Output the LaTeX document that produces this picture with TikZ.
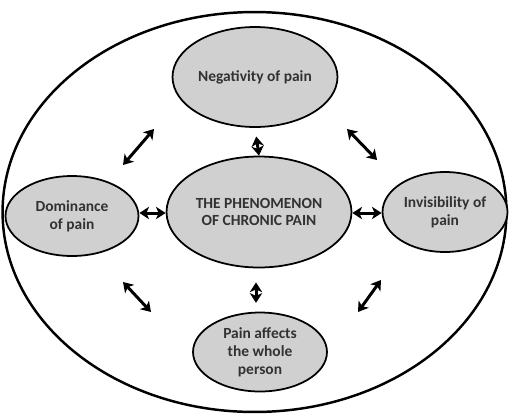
\documentclass[tikz,border=0pt]{standalone}
\usepackage{fontspec}
\setmainfont{Carlito}
\usetikzlibrary{shapes.geometric, arrows.meta}
\definecolor{bubblegray}{RGB}{208,208,208}
\definecolor{inkgray}{RGB}{50,50,50}

\begin{document}
\begin{tikzpicture}[x=0.02cm, y=-0.02cm,
	bubble/.style={draw, ellipse, fill=bubblegray, line width=1pt, inner sep=0pt, align=center, text=inkgray, font=\fontsize{8.8}{10.2}\selectfont\bfseries},
	twoway/.style={line width=1.7pt, {Stealth[length=5.5pt, width=7pt, inset=1.5pt]}-{Stealth[length=5.5pt, width=7pt, inset=1.5pt]}}]
	\useasboundingbox (0,0) rectangle (509,416);
	\node[draw, ellipse, line width=1.4pt, minimum width=10.08cm, minimum height=8cm] (frame) at (254.5,212) {};
	
	\node[bubble, minimum width=3.3cm, minimum height=2cm] (neg) at (255,77) {Negativity of pain};
	\node[bubble, minimum width=3.7cm, minimum height=2.22cm] (cen) at (259,212) {THE PHENOMENON\\OF CHRONIC PAIN};
	\node[bubble, minimum width=2.66cm, minimum height=1.6cm] (dom) at (72,216) {Dominance\\of pain};
	\node[bubble, minimum width=2.5cm, minimum height=1.6cm] (inv) at (445,212) {Invisibility of\\pain};
	\node[bubble, minimum width=2.68cm, minimum height=1.58cm] (whole) at (260,352) {Pain affects\\the whole\\person};
	
	\draw[twoway] (dom.east |- 0,213) -- (cen.west |- 0,213);
	\draw[twoway] (cen.east |- 0,213) -- (inv.west |- 0,213);
	\draw[twoway, shorten <=5pt] (neg.south) -- (cen.north);
	\draw[twoway, shorten <=8pt, shorten >=5pt] (cen.south -| 256,0) -- (whole.north -| 256,0);
	
	\coordinate (tl1) at (123,165); \coordinate (tl2) at (154,129);
	\coordinate (tr1) at (347,129); \coordinate (tr2) at (377,160);
	\coordinate (bl1) at (123,282); \coordinate (bl2) at (151,312);
	\coordinate (br1) at (358,312); \coordinate (br2) at (381,280);
	\draw[twoway] (tl1) -- (tl2);
	\draw[twoway] (tr1) -- (tr2);
	\draw[twoway] (bl1) -- (bl2);
	\draw[twoway] (br1) -- (br2);
\end{tikzpicture}
\end{document}
